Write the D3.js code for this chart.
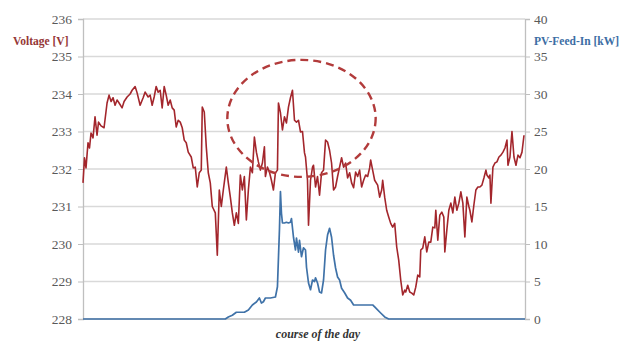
<!DOCTYPE html>
<html>
<head>
<meta charset="utf-8">
<script src="https://cdn.jsdelivr.net/npm/d3@7"></script>
<style>
  body { margin: 0; background: #fff; }
  svg { display: block; }
  svg text { font-family: 'Liberation Serif', 'Times New Roman', Times, 'DejaVu Serif', serif !important; }
</style>
</head>
<body>
<div id="chart"></div>
<script>
// sample time steps across the day (0 = start, 441 = end)
const dayLength = 441;

// [time step, voltage in V]
const voltageSeries = [
  [0, 231.63], [1.5, 232.3], [3, 232.03], [5, 232.7], [6.5, 232.56], [8, 232.96], [10, 232.83],
  [12, 233.39], [14, 232.9], [15.5, 233.25], [18, 233.15], [21, 233.1], [24, 233.76], [26, 233.97],
  [28, 233.8], [30, 233.9], [32, 233.7], [34, 233.84], [36, 233.76], [39, 233.63], [41, 233.8],
  [44, 233.92], [47, 234.0], [49, 234.1], [52, 234.2], [54, 234.03], [57, 233.7], [60, 233.9],
  [62, 234.05], [65, 233.92], [67, 233.97], [69, 233.7], [71, 233.92], [73, 234.2], [75, 234.05],
  [77, 234.1], [79, 233.63], [81, 234.2], [83, 233.97], [85, 233.7], [87, 233.84], [89, 233.63],
  [91, 233.57], [93, 233.12], [95, 233.3], [97, 233.25], [99, 233.1], [101, 232.77], [103, 232.7],
  [105, 232.45], [108, 232.32], [110, 232.03], [112, 232.05], [114, 231.52], [116, 231.9],
  [118, 231.97], [119, 233.65], [121, 233.52], [123, 232.59], [125, 231.9], [127, 231.63],
  [129, 231.0], [132, 230.83], [134, 229.7], [136, 231.44], [138, 231.0], [140, 231.44],
  [143, 232.05], [145, 231.63], [147, 231.25], [149, 230.83], [151, 230.5], [153, 230.83],
  [155, 230.55], [157, 231.84], [159, 231.44], [161, 231.8], [163, 230.64], [165, 231.44],
  [167, 232.05], [169, 231.9], [171, 232.85], [173, 232.45], [175, 232.19], [177, 231.97],
  [179, 232.16], [181, 232.59], [182, 231.8], [184, 232.05], [186, 231.92], [188, 231.7],
  [190, 231.44], [192, 231.9], [194, 231.97], [195, 233.76], [197, 233.5], [199, 233.04],
  [201, 233.39], [203, 233.23], [205, 233.65], [207, 233.9], [209, 234.1], [211, 233.3],
  [213, 233.25], [215, 233.3], [217, 232.99], [219, 233.0], [221, 232.43], [222, 232.32],
  [224, 231.7], [225, 230.5], [227, 231.7], [229, 232.05], [230, 232.1], [232, 231.52],
  [234, 231.8], [236, 231.3], [238, 231.9], [240, 231.97], [242, 232.77], [244, 232.72],
  [246, 232.5], [248, 232.16], [250, 231.44], [252, 231.52], [254, 231.8], [256, 232.05],
  [258, 232.3], [260, 232.05], [262, 232.16], [264, 231.76], [266, 231.9], [268, 231.63],
  [270, 231.5], [272, 231.92], [274, 231.8], [276, 231.97], [278, 231.52], [280, 231.7],
  [282, 231.84], [284, 231.8], [286, 232.03], [287, 232.24], [289, 231.97], [291, 231.7],
  [294, 231.57], [296, 231.25], [298, 231.44], [299, 231.7], [301, 231.25], [303, 230.9],
  [305, 230.72], [307, 230.55], [309, 230.45], [311, 230.55], [313, 229.92], [315, 229.57],
  [317, 229.04], [319, 228.64], [321, 228.77], [322, 228.72], [324, 228.9], [326, 228.72],
  [328, 228.69], [330, 228.64], [332, 228.85], [334, 229.17], [336, 229.12], [337, 229.84],
  [339, 229.89], [341, 230.19], [343, 229.79], [345, 230.05], [347, 230.05], [349, 230.45],
  [351, 230.43], [352, 230.9], [354, 230.1], [356, 230.77], [358, 230.85], [360, 230.72],
  [361, 229.79], [363, 230.37], [365, 230.9], [367, 231.09], [369, 230.83], [371, 231.25],
  [373, 230.9], [375, 231.09], [377, 231.39], [379, 231.09], [381, 230.19], [383, 231.25],
  [385, 231.0], [386, 230.9], [388, 230.59], [390, 231.04], [392, 231.44], [394, 231.52],
  [396, 231.52], [398, 231.57], [400, 231.76], [402, 231.97], [403, 231.84], [405, 231.76],
  [406, 231.84], [407, 231.09], [409, 232.05], [411, 232.16], [413, 232.19], [415, 232.32],
  [417, 232.37], [419, 232.45], [421, 232.56], [423, 232.77], [424, 232.1], [426, 232.32],
  [428, 233.0], [430, 232.32], [432, 232.1], [434, 232.37], [436, 232.3], [438, 232.45],
  [440, 232.9]
];

// [time step, PV feed-in in kW]
const pvSeries = [
  [0, 0], [142, 0], [145, 0.27], [149, 0.5], [153, 0.9], [161, 0.9], [165, 1.2], [169, 1.87],
  [173, 2.27], [176, 2.8], [178, 2.13], [180, 2.3], [182, 2.8], [187, 2.8], [192, 2.93],
  [194, 4.3], [196, 11.9], [197, 17.0], [198, 14.1], [199, 12.8], [201, 12.8], [203, 12.9],
  [205, 12.8], [207, 12.9], [208, 13.4], [210, 10.9], [212, 9.2], [213, 10.8], [215, 8.9],
  [216, 10.5], [218, 8.3], [220, 9.5], [222, 9.2], [223, 6.9], [225, 4.8], [227, 3.9],
  [229, 5.2], [231, 5.0], [232, 5.5], [234, 4.8], [236, 3.6], [238, 3.47], [240, 5.2],
  [242, 9.2], [244, 11.2], [246, 12.1], [248, 10.9], [250, 8.5], [252, 6.8], [254, 5.6],
  [256, 5.2], [258, 4.1], [261, 3.5], [264, 2.8], [267, 2.5], [270, 1.87], [289, 1.87],
  [292, 1.47], [297, 0.8], [301, 0.27], [305, 0], [441, 0]
];

const voltageTicks = [228, 229, 230, 231, 232, 233, 234, 235, 236];
const pvTicks = [0, 5, 10, 15, 20, 25, 30, 35, 40];

// dashed ellipse highlighting the midday voltage rise (time step, V, half-width in steps, half-height in V)
const highlight = { t: 218, v: 233.35, rt: 74, rv: 1.56 };

const width = 622, height = 342;
const margin = { top: 19, right: 97, bottom: 23, left: 83 };
const w = width - margin.left - margin.right;
const h = height - margin.top - margin.bottom;

const red = "#a3262c", blue = "#3f72a8";

const svg = d3.select("#chart").append("svg")
  .attr("width", width)
  .attr("height", height);

const g = svg.append("g")
  .attr("transform", "translate(" + margin.left + "," + margin.top + ")");

const x = d3.scaleLinear().domain([0, dayLength]).range([0, w]);
const yV = d3.scaleLinear().domain([228, 236]).range([h, 0]);
const yP = d3.scaleLinear().domain([0, 40]).range([h, 0]);

// gridlines
g.selectAll(".grid")
  .data(voltageTicks)
  .enter().append("line")
  .attr("class", "grid")
  .attr("x1", 0).attr("x2", w)
  .attr("y1", d => yV(d)).attr("y2", d => yV(d))
  .attr("stroke", "#d9d9d9")
  .attr("stroke-width", 1.3);

// axes
const leftAxis = g.append("g")
  .call(d3.axisLeft(yV).tickValues(voltageTicks).tickFormat(d3.format("d")).tickSize(5).tickPadding(6));
const rightAxis = g.append("g")
  .attr("transform", "translate(" + w + ",0)")
  .call(d3.axisRight(yP).tickValues(pvTicks).tickFormat(d3.format("d")).tickSize(5).tickPadding(4));
[leftAxis, rightAxis].forEach(a => {
  a.attr("font-size", 13.5);
  a.select(".domain").attr("stroke", "#bfbfbf").attr("stroke-width", 1.3);
  a.selectAll(".tick line").attr("stroke", "#bfbfbf");
  a.selectAll(".tick text").attr("fill", "#595959");
});
g.append("line")
  .attr("x1", 0).attr("x2", w)
  .attr("y1", h).attr("y2", h)
  .attr("stroke", "#bfbfbf");

// PV line
g.append("path")
  .datum(pvSeries)
  .attr("fill", "none")
  .attr("stroke", blue)
  .attr("stroke-width", 1.7)
  .attr("stroke-linejoin", "round")
  .attr("d", d3.line().x(d => x(d[0])).y(d => yP(d[1])));

// voltage line
g.append("path")
  .datum(voltageSeries)
  .attr("fill", "none")
  .attr("stroke", red)
  .attr("stroke-width", 1.6)
  .attr("stroke-linejoin", "round")
  .attr("d", d3.line().x(d => x(d[0])).y(d => yV(d[1])));

// highlight ellipse
g.append("ellipse")
  .attr("cx", x(highlight.t))
  .attr("cy", yV(highlight.v))
  .attr("rx", x(highlight.rt) - x(0))
  .attr("ry", yV(228) - yV(228 + highlight.rv))
  .attr("fill", "none")
  .attr("stroke", "#b23b3b")
  .attr("stroke-width", 2.4)
  .attr("stroke-dasharray", "8,5");

// titles
svg.append("text")
  .attr("x", 13).attr("y", 45)
  .attr("font-weight", "bold")
  .attr("font-size", 11.5)
  .attr("fill", "#953735")
  .text("Voltage [V]");

svg.append("text")
  .attr("x", 534).attr("y", 45)
  .attr("font-weight", "bold")
  .attr("font-size", 11.5)
  .attr("fill", "#3c6da4")
  .text("PV-Feed-In [kW]");

svg.append("text")
  .attr("x", margin.left + w / 2 + 14).attr("y", 338)
  .attr("text-anchor", "middle")
  .attr("font-weight", "bold")
  .attr("font-style", "italic")
  .attr("font-size", 12)
  .attr("fill", "#333")
  .text("course of the day");
</script>
</body>
</html>
